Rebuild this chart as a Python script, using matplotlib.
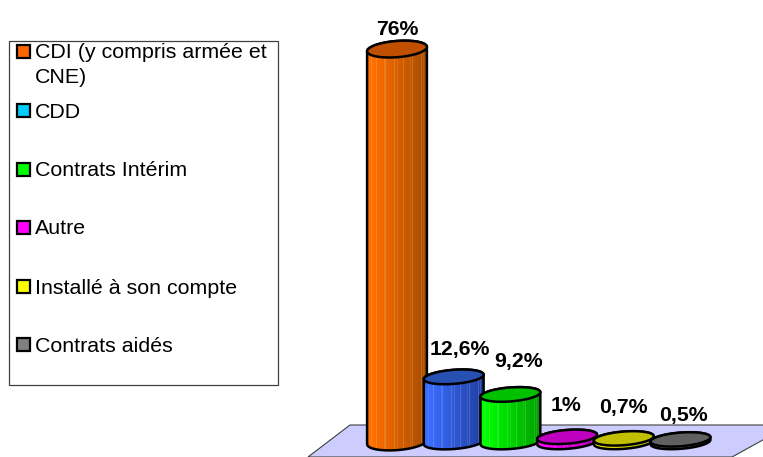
import numpy as np
import matplotlib
matplotlib.use("Agg")
import matplotlib.pyplot as plt
from matplotlib.colors import LinearSegmentedColormap
from matplotlib.patches import Polygon, Rectangle, PathPatch
from matplotlib.path import Path

plt.rcParams['font.family'] = ['Liberation Sans', 'DejaVu Sans']

# data
categories = ["CDI (y compris armée et\nCNE)", "CDD", "Contrats Intérim", "Autre",
              "Installé à son compte", "Contrats aidés"]
values = [76, 12.6, 9.2, 1, 0.7, 0.5]
value_labels = ["76%", "12,6%", "9,2%", "1%", "0,7%", "0,5%"]
legend_colors = ["#FF6600", "#00CCFF", "#00FF00", "#FF00FF", "#FFFF00", "#808080"]
side_light = ["#FF7000", "#3A6CFF", "#00FF00", "#FF00FF", "#FFFF00", "#8A8A8A"]
side_dark = ["#A84C00", "#2040A0", "#00A000", "#B000B0", "#B0B000", "#505050"]
top_colors = ["#C05000", "#2850B0", "#00C000", "#C000C0", "#C0C000", "#606060"]

# params (pixels)
W, H = 763, 457
X0, DX = 397, 56.7
Y0, PX_PER_UNIT = 442, 5.17
HALF_W = 30
TILT = np.deg2rad(4.5)
LW = 1.8
LABEL_OFFSETS = [(0, 20), (6, 27), (8, 33), (-1, 31), (0, 31), (3, 24)]
LEGEND_ROWS = [52, 111, 170, 228, 287, 345]

fig = plt.figure(figsize=(W / 100, H / 100), dpi=100)
ax = fig.add_axes([0, 0, 1, 1])
ax.set_xlim(-X0 / DX, (W - X0) / DX)
ax.set_ylim((Y0 - H) / PX_PER_UNIT, Y0 / PX_PER_UNIT)
ax.axis('off')

SX, SY = 1 / DX, 1 / PX_PER_UNIT


def ellipse_points(cx, cy, b, t):
    dx = HALF_W * np.cos(t) * np.cos(TILT) - b * np.sin(t) * np.sin(TILT)
    dy = HALF_W * np.cos(t) * np.sin(TILT) + b * np.sin(t) * np.cos(TILT)
    return np.column_stack([cx + dx * SX, cy + dy * SY])


# floor, given in pixels
floor_px = [(350, 425), (790, 425), (732, 457), (308, 457)]
ax.add_patch(Polygon([(x, H - y) for x, y in floor_px], closed=True, transform=None,
                     facecolor="#CCCCFF", edgecolor="#404040", lw=0.8))

for i, v in enumerate(values):
    b = 6.8 + 1.3 * v / 76
    top = ellipse_points(i, v, b, np.linspace(0, 2 * np.pi, 120))
    # outline of the side: lower half of base, then upper half of top ellipse
    base_half = ellipse_points(i, 0, b, np.linspace(np.pi, 2 * np.pi, 60))
    top_half = ellipse_points(i, v, b, np.linspace(0, np.pi, 60))
    outline = np.vstack([base_half, top_half, base_half[:1]])
    path = Path(outline)
    patch = PathPatch(path, facecolor='none', edgecolor='black', lw=LW, zorder=3 + i * 3)
    ax.add_patch(patch)

    # shaded side with the thin vertical stripes
    cmap = LinearSegmentedColormap.from_list("side", [side_light[i], side_dark[i]])
    shade = np.clip(np.linspace(-0.1, 1.0, 60), 0, 1)
    rgb = cmap(shade)[:, :3]
    rgb[::9] = rgb[::9] * 0.85 + 0.15
    rgb[4::13] = rgb[4::13] * 0.9 + 0.1
    xmin, xmax = outline[:, 0].min(), outline[:, 0].max()
    ymin, ymax = outline[:, 1].min(), outline[:, 1].max()
    im = ax.imshow(rgb[np.newaxis, :, :], extent=[xmin, xmax, ymin, ymax], aspect='auto',
                   interpolation='nearest', zorder=2 + i * 3)
    clip = PathPatch(path, transform=ax.transData)
    im.set_clip_path(clip)

    ax.fill(top[:, 0], top[:, 1], facecolor=top_colors[i], edgecolor='black', lw=LW,
            zorder=4 + i * 3)
    ax.annotate(value_labels[i], xy=(i, v), xytext=LABEL_OFFSETS[i], textcoords='offset pixels',
                ha='center', va='center', fontsize=15.3, fontweight='bold', color='black',
                zorder=40)

ax.set_xlim(-X0 / DX, (W - X0) / DX)
ax.set_ylim((Y0 - H) / PX_PER_UNIT, Y0 / PX_PER_UNIT)

# legend, laid out in pixels
leg = fig.add_axes([0, 0, 1, 1], facecolor='none')
leg.set_xlim(0, W)
leg.set_ylim(H, 0)
leg.axis('off')
leg.add_patch(Rectangle((9, 41), 269, 344, facecolor='white', edgecolor='#404040', lw=0.9))
for label, color, y in zip(categories, legend_colors, LEGEND_ROWS):
    leg.add_patch(Rectangle((16.5, y - 7.5), 13.5, 13.5, facecolor=color, edgecolor='black', lw=1.6))
    leg.text(35, y - 8.5, label, ha='left', va='top', fontsize=15.4, color='black', linespacing=1.35)

fig.savefig("out.png", dpi=100)
